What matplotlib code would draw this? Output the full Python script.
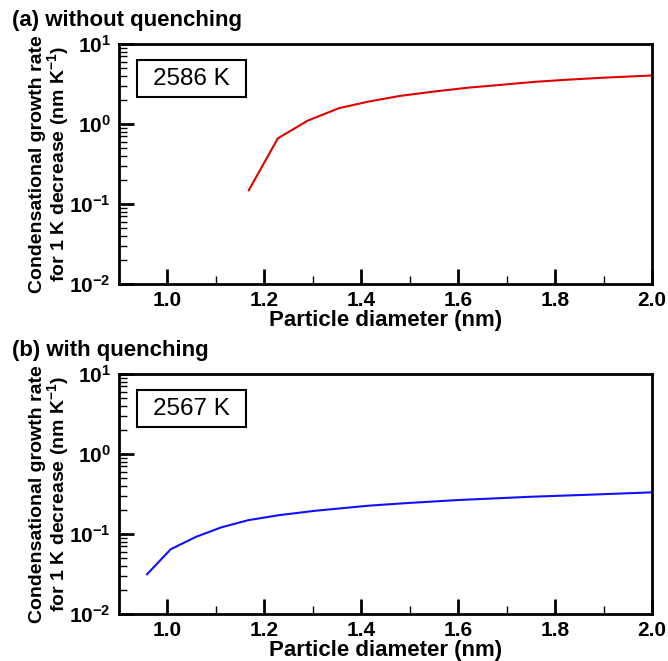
import matplotlib
matplotlib.use('Agg')
import matplotlib.pyplot as plt
from matplotlib.patches import Rectangle
from matplotlib.ticker import MultipleLocator, FormatStrFormatter, LogLocator

plt.rcParams['font.family'] = ['Liberation Sans', 'DejaVu Sans']
plt.rcParams['font.weight'] = 'bold'
plt.rcParams['mathtext.fontset'] = 'custom'
plt.rcParams['mathtext.rm'] = 'Liberation Sans:bold'
plt.rcParams['mathtext.bf'] = 'Liberation Sans:bold'
plt.rcParams['mathtext.default'] = 'bf'

# data
d_a = [1.168, 1.228, 1.289, 1.354, 1.415, 1.48, 1.55, 1.62, 1.69, 1.76, 1.83, 1.90, 1.96, 2.0]
g_a = [0.149, 0.663, 1.10, 1.58, 1.91, 2.25, 2.55, 2.85, 3.1, 3.38, 3.6, 3.8, 3.95, 4.05]

d_b = [0.958, 1.007, 1.059, 1.111, 1.167, 1.23, 1.304, 1.415, 1.5, 1.6, 1.748, 1.87, 2.0]
g_b = [0.0314, 0.0646, 0.0922, 0.121, 0.149, 0.172, 0.195, 0.226, 0.245, 0.266, 0.292, 0.31, 0.332]

panels = [
    ('(a) without quenching', '2586 K', d_a, g_a, '#e00000'),
    ('(b) with quenching', '2567 K', d_b, g_b, '#1010ff'),
]

fig = plt.figure(figsize=(6.68, 6.61), dpi=100)
positions = [[0.178, 0.5703, 0.798, 0.363], [0.178, 0.0711, 0.798, 0.363]]

for pos, (title, temp, x, y, color) in zip(positions, panels):
    ax = fig.add_axes(pos)
    ax.plot(x, y, color=color, lw=1.5)
    ax.set_yscale('log')
    ax.set_xlim(0.9, 2.0)
    ax.set_ylim(1e-2, 1e1)
    ax.xaxis.set_major_locator(MultipleLocator(0.2))
    ax.xaxis.set_minor_locator(MultipleLocator(0.1))
    ax.xaxis.set_major_formatter(FormatStrFormatter('%.1f'))
    ax.yaxis.set_major_locator(LogLocator(base=10, numticks=10))
    ax.yaxis.set_minor_locator(LogLocator(base=10, subs=range(2, 10), numticks=10))
    ax.tick_params(which='both', direction='in', top=False, right=False, labelsize=15)
    ax.tick_params(which='major', length=11, width=2)
    ax.tick_params(which='minor', length=6, width=1)
    ax.tick_params(axis='x', pad=5)
    ax.tick_params(axis='y', pad=6)
    for s in ax.spines.values():
        s.set_linewidth(2)
    ax.set_xlabel('Particle diameter (nm)', fontsize=16, fontweight='bold', labelpad=0)
    ax.set_ylabel('Condensational growth rate\nfor 1 K decrease (nm K$^{-1}$)',
                  fontsize=14, fontweight='bold', linespacing=0.95)
    ax.yaxis.set_label_coords(-0.09, 0.5)
    ax.text(-0.2, 1.1, title, transform=ax.transAxes, fontsize=16,
            fontweight='bold', ha='left', va='center')
    ax.add_patch(Rectangle((0.034, 0.78), 0.204, 0.153, transform=ax.transAxes,
                           fill=False, lw=1.5, ec='black'))
    ax.text(0.136, 0.856, temp, transform=ax.transAxes, fontsize=17.5,
            fontweight='normal', ha='center', va='center')

fig.savefig('out.png', dpi=100)
